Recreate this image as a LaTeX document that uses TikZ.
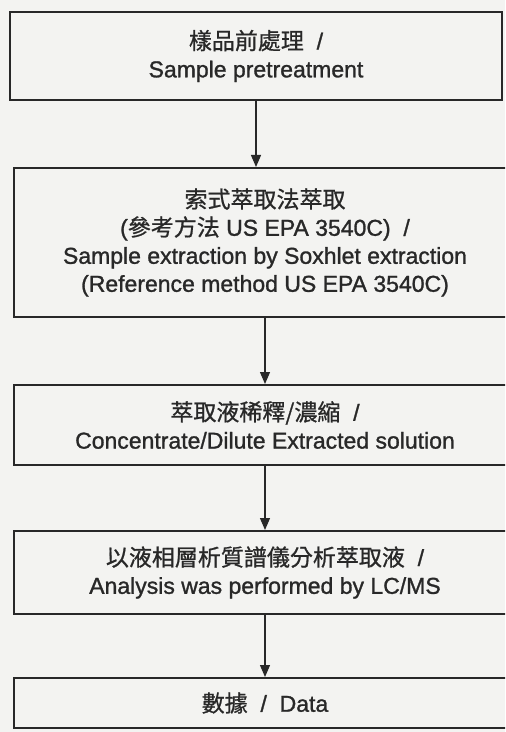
\documentclass[tikz,border=0pt]{standalone}
\usepackage{fontspec}
\setmainfont{Liberation Sans}
\newfontfamily\heavy{Liberation Sans}[FakeBold=1.2]
\newfontfamily\cjk{Noto Sans CJK TC}[FakeBold=0.8]
\usetikzlibrary{positioning,arrows.meta}
\definecolor{paper}{RGB}{243,243,241}
\definecolor{ink}{RGB}{40,40,40}

\begin{document}
\begin{tikzpicture}[
			stepbox/.style={rectangle, draw=ink, line width=1pt, minimum width=251pt, align=center, text=ink, font=\heavy\fontsize{11.5}{14}\selectfont},
			firstbox/.style={stepbox, minimum width=246pt},
			node distance=33pt
		]
		\useasboundingbox (0,0) rectangle (252.5pt,-366pt);
		\clip (0,0) rectangle (252.5pt,-366pt);
		\fill[paper] (0,0) rectangle (252.5pt,-366pt);
		\node[firstbox, minimum height=44pt] (pretreat) at (128pt,-28pt) {{\cjk 樣品前處理}\ \ /\\Sample pretreatment};
		\node[stepbox, minimum height=74.5pt] (soxhlet) [below=of pretreat, xshift=4.5pt] {{\cjk 索式萃取法萃取}\\({\cjk 參考方法} US EPA 3540C)\ \ /\\Sample extraction by Soxhlet extraction\\(Reference method US EPA 3540C)};
		\node[stepbox, minimum height=40pt] (concentrate) [below=of soxhlet] {{\cjk 萃取液稀釋/濃縮}\ \ /\\Concentrate/Dilute Extracted solution};
		\node[stepbox, minimum height=41.5pt] (lcms) [below=32pt of concentrate] {{\cjk 以液相層析質譜儀分析萃取液}\ \ /\\Analysis was performed by LC/MS};
		\node[stepbox, minimum height=25pt] (data) [below=31pt of lcms] {{\cjk 數據}\ \ /\ \ Data};
		\begin{scope}[line width=0.6pt, draw=ink, -{Triangle[width=5pt,length=6pt]}]
		\draw (pretreat.south) -- (pretreat.south |- soxhlet.north);
		\draw (soxhlet.south) -- (concentrate.north);
		\draw (concentrate.south) -- (lcms.north);
		\draw (lcms.south) -- (data.north);
		\end{scope}
\end{tikzpicture}
\end{document}
